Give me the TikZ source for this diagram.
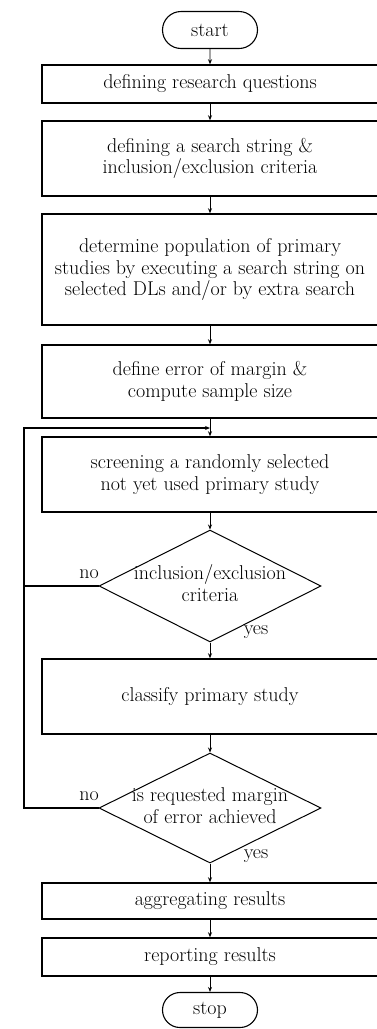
\documentclass[tikz,border=0pt]{standalone}
\usetikzlibrary{shapes.misc,shapes.geometric,arrows.meta}
\begin{document}
\begin{tikzpicture}[x=1pt,y=-1pt,
  every node/.style={font=\fontsize{20}{21.5}\selectfont},
  box/.style={draw, line width=1.5pt, minimum width=336pt, align=center, inner sep=0pt},
  term/.style={draw, rounded rectangle, line width=1.1pt, minimum width=95pt, minimum height=37pt, inner sep=0pt},
  dec/.style={draw, diamond, line width=1pt, minimum width=222pt, minimum height=112pt, inner sep=0pt},
  conn/.style={line width=0.9pt, -{Stealth[length=5pt,width=4pt]}},
  loopline/.style={line width=1.2pt},
  lbl/.style={inner sep=0pt}]
\useasboundingbox (0,0) rectangle (376,1029);
\node[term] (start) at (210,30) {start};
\node[box, minimum height=38pt] (b1) at (210,84) {defining research questions};
\node[box, minimum height=75pt] (b2) at (210,158.5) {defining a search string \&\\inclusion/exclusion criteria};
\node[box, minimum height=111pt] (b3) at (210,269.5) {determine population of primary\\studies by executing a search string on\\selected DLs and/or by extra search};
\node[box, minimum height=73pt] (b4) at (210,381.5) {define error of margin \&\\compute sample size};
\node[box, minimum height=75pt] (b5) at (210,474.5) {screening a randomly selected\\not yet used primary study};
\node[dec] (d1) at (210,586) {\makebox[0pt]{\begin{tabular}{@{}c@{}}inclusion/exclusion\\criteria\end{tabular}}};
\node[box, minimum height=75pt] (b6) at (210,696.5) {classify primary study};
\node[dec, minimum height=110pt] (d2) at (210,808) {\makebox[0pt]{\begin{tabular}{@{}c@{}}is requested margin\\of error achieved\end{tabular}}};
\node[box, minimum height=36pt] (b7) at (210,901) {aggregating results};
\node[box, minimum height=38pt] (b8) at (210,957) {reporting results};
\node[term, minimum height=35pt] (stop) at (210,1010) {stop};
\node[lbl] (no1) at (89,574) {no};
\node[lbl] (yes1) at (256,632) {yes};
\node[lbl] (no2) at (89,796) {no};
\node[lbl] (yes2) at (256,856) {yes};
\coordinate (j) at (210,428);
\coordinate (lx) at (24,428);
\draw[conn] (start) -- (b1);
\draw[conn] (b1) -- (b2);
\draw[conn] (b2) -- (b3);
\draw[conn] (b3) -- (b4);
\draw[conn] (b4) -- (b5);
\draw[conn] (b5) -- (d1);
\draw[conn] (d1) -- (b6);
\draw[conn] (b6) -- (d2);
\draw[conn] (d2) -- (b7);
\draw[conn] (b7) -- (b8);
\draw[conn] (b8) -- (stop);
\draw[loopline] (d1.west) -- (d1.west -| lx);
\draw[loopline, -{Stealth[length=5pt,width=4pt]}] (d2.west) -| (lx) -- (j);
\end{tikzpicture}
\end{document}
